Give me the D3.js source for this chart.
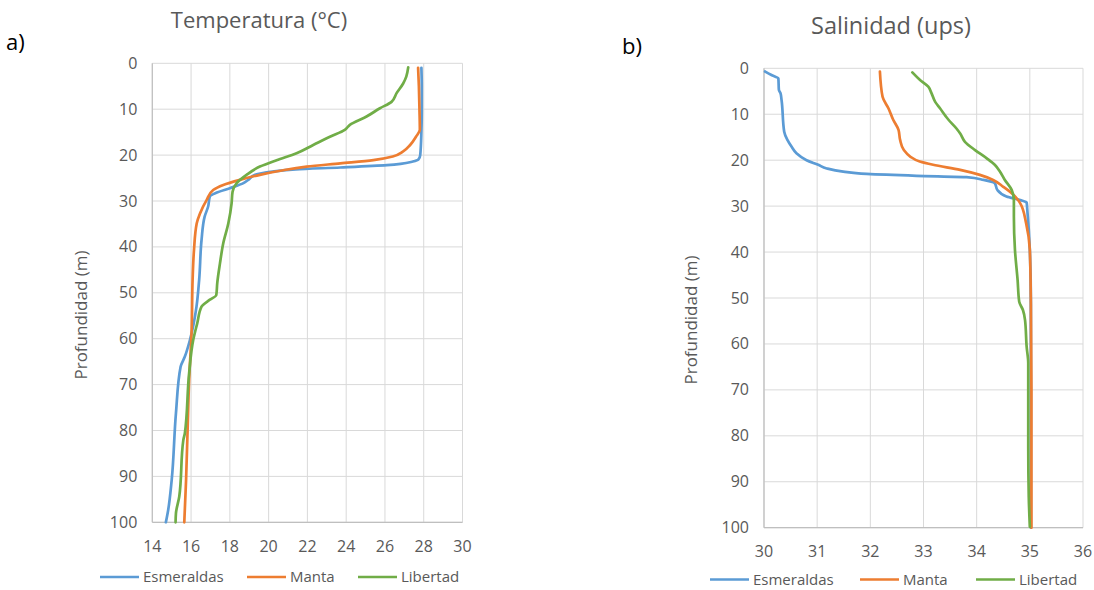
<!DOCTYPE html>
<html><head><meta charset="utf-8">
<script src="https://cdn.jsdelivr.net/npm/d3@7"></script>
<style>body{margin:0;background:#fff;} svg{display:block;}</style>
</head><body>
<svg id="c" width="1094" height="590"></svg>
<script>
// ---- Data ----
const seriesNames = ["Esmeraldas", "Manta", "Libertad"];
const seriesColors = ["#5B9BD5", "#ED7D31", "#70AD47"];

const tempTicks = [14,16,18,20,22,24,26,28,30];
const salTicks = [30,31,32,33,34,35,36];
const depthTicks = [0,10,20,30,40,50,60,70,80,90,100];

// Temperatura
const tEsmDepth = [1,5,10,15,20,21,21.4,22.2,22.7,23.1,23.6,24.3,25.4,26.1,27.2,28.2,29,31.2,33.4,38.5,47,53,60.3,63.9,66.1,76.2,90.8,97.3,100];
const tEsmTemp  = [27.88,27.9,27.9,27.88,27.82,27.72,27.44,26.1,23.7,21.4,20.2,19.3,18.95,18.7,18.0,17.3,16.97,16.88,16.7,16.54,16.42,16.28,15.94,15.68,15.46,15.22,15.0,14.82,14.7];

const tManDepth = [1,5,10,14.5,16,17.8,19.2,20.3,21.1,21.8,22.5,23.4,24.3,25.4,26.5,27.6,29.8,32.7,34.9,40.7,47,58,69,80,91,100];
const tManTemp  = [27.71,27.75,27.78,27.8,27.6,27.3,26.94,26.4,25.4,23.7,21.96,20.6,19.55,18.52,17.66,17.14,16.8,16.46,16.29,16.15,16.08,16.03,15.9,15.82,15.74,15.65];

const tLibDepth = [0.9,2.9,4.4,6.5,8.4,9.8,11.6,13.4,14.5,16,17.8,19.6,21.1,22.5,24.3,26.1,28,30.5,34.9,39.2,43.6,47.9,50.5,51.5,53,56.6,60.3,67.5,80.6,82.1,94.4,98,100];
const tLibTemp  = [27.2,27.1,26.94,26.6,26.34,25.74,25.05,24.19,23.93,23.16,22.3,21.44,20.41,19.55,18.86,18.35,18.14,18.09,17.92,17.66,17.49,17.35,17.3,16.97,16.54,16.32,16.11,15.9,15.68,15.6,15.39,15.22,15.2];

// Salinidad
const sEsmDepth = [0.7,1.45,2.2,4.7,5.4,6.9,13.8,15.6,17.1,18.5,20,21,21.8,22.5,23,23.4,23.7,24.3,25,26.5,27.9,28.7,29.2,30.5,39.5,51.2,70,100];
const sEsmSal   = [30.02,30.14,30.27,30.28,30.31,30.33,30.38,30.44,30.52,30.61,30.8,31.02,31.18,31.49,31.93,32.87,33.81,34.13,34.34,34.39,34.56,34.82,34.94,34.95,35.0,35.02,35.02,35.02];

const sManDepth = [0.7,6.2,8.7,11.2,13.4,15.6,17.8,19.2,20.3,21,22.1,23.2,24.3,25.8,27.2,29.4,33.7,39.5,51.2,70,100];
const sManSal   = [32.18,32.23,32.34,32.43,32.53,32.56,32.63,32.75,32.93,33.18,33.69,34.06,34.31,34.5,34.66,34.82,34.93,35.0,35.02,35.03,35.03];

const sLibDepth = [0.9,2.5,4.0,5.4,7.3,8.7,11.2,13.1,14.2,16,17.8,19.6,21,22.5,24.3,26.5,28.7,32.3,39.5,46.1,50.8,52.6,54.8,60.6,64.2,82.4,93.3,99.8];
const sLibSal   = [32.79,32.93,33.09,33.15,33.22,33.31,33.47,33.62,33.69,33.78,33.97,34.19,34.34,34.44,34.53,34.66,34.7,34.7,34.72,34.77,34.8,34.87,34.91,34.94,34.97,34.97,34.98,35.0];

// ---- Drawing ----
const svg = d3.select("#c");
const FONT = "'Open Sans', sans-serif";
const GRAY = "#595959";

function panel(cfg) {
  const x = d3.scaleLinear().domain(cfg.xDomain).range(cfg.xRange);
  const y = d3.scaleLinear().domain([0,100]).range(cfg.yRange);
  const g = svg.append("g");
  // grid
  g.selectAll(".vg").data(cfg.xTicks).enter().append("line")
    .attr("x1", d=>x(d)).attr("x2", d=>x(d))
    .attr("y1", y(0)).attr("y2", y(100))
    .attr("stroke", "#D9D9D9").attr("stroke-width", 1);
  g.selectAll(".hg").data(depthTicks).enter().append("line")
    .attr("x1", x.range()[0]).attr("x2", x.range()[1])
    .attr("y1", d=>y(d)).attr("y2", d=>y(d))
    .attr("stroke", "#D9D9D9").attr("stroke-width", 1);
  // axes lines
  g.append("line").attr("x1", x.range()[0]).attr("x2", x.range()[0])
    .attr("y1", y(0)).attr("y2", y(100)).attr("stroke", "#BFBFBF").attr("stroke-width", 1.2);
  g.append("line").attr("x1", x.range()[0]).attr("x2", x.range()[1])
    .attr("y1", y(100)).attr("y2", y(100)).attr("stroke", "#BFBFBF").attr("stroke-width", 1.2);
  // tick labels
  g.selectAll(".yl").data(depthTicks).enter().append("text")
    .attr("x", x.range()[0] - 15).attr("y", d=>y(d) + 5.5)
    .attr("text-anchor", "end").attr("font-family", FONT).attr("font-size", 16)
    .attr("fill", GRAY).text(d=>d);
  g.selectAll(".xl").data(cfg.xTicks).enter().append("text")
    .attr("x", d=>x(d)).attr("y", cfg.xLabelY)
    .attr("text-anchor", "middle").attr("font-family", FONT).attr("font-size", 16)
    .attr("fill", GRAY).text(d=>d);
  // series
  const line = d3.line().x(d=>x(d[0])).y(d=>y(d[1])).curve(d3.curveMonotoneY);
  cfg.series.forEach((s,i) => {
    const pts = s.v.map((v,k)=>[v, s.d[k]]);
    g.append("path").attr("d", line(pts)).attr("fill","none")
      .attr("stroke", seriesColors[i]).attr("stroke-width", 2.7)
      .attr("stroke-linejoin","round").attr("stroke-linecap","round");
  });
  // title
  g.append("text").attr("x", cfg.titleX).attr("y", cfg.titleY).attr("text-anchor","middle")
    .attr("font-family", FONT).attr("font-size", cfg.titleSize).attr("fill", GRAY).text(cfg.title);
  // y axis title
  g.append("text").attr("transform", `translate(${cfg.yTitleX},${cfg.yTitleY}) rotate(-90)`)
    .attr("text-anchor","middle").attr("font-family", FONT).attr("font-size", 17)
    .attr("fill", GRAY).text("Profundidad (m)");
  // panel letter
  g.append("text").attr("x", cfg.letterX).attr("y", cfg.letterY)
    .attr("font-family", FONT).attr("font-size", 22).attr("fill", "#000").text(cfg.letter);
  // legend
  cfg.legendX.forEach((lx,i) => {
    g.append("line").attr("x1", lx).attr("x2", lx+39).attr("y1", cfg.legendY).attr("y2", cfg.legendY)
      .attr("stroke", seriesColors[i]).attr("stroke-width", 2.7);
    g.append("text").attr("x", lx+43).attr("y", cfg.legendY+5)
      .attr("font-family", FONT).attr("font-size", 15).attr("fill", GRAY).text(seriesNames[i]);
  });
}

panel({
  xDomain:[14,30], xRange:[152.3,462.5], yRange:[63.3,522.3], xTicks: tempTicks,
  xLabelY: 552, title: "Temperatura (°C)", titleSize: 22, titleX: 259, titleY: 28,
  yTitleX: 87, yTitleY: 315, letter: "a)", letterX: 6, letterY: 50,
  legendX: [100, 247, 358], legendY: 577,
  series: [{d:tEsmDepth, v:tEsmTemp},{d:tManDepth, v:tManTemp},{d:tLibDepth, v:tLibTemp}]
});
panel({
  xDomain:[30,36], xRange:[764,1083], yRange:[68.3,527.7], xTicks: salTicks,
  xLabelY: 557, title: "Salinidad (ups)", titleSize: 23.5, titleX: 891, titleY: 34,
  yTitleX: 697, yTitleY: 320, letter: "b)", letterX: 622, letterY: 54,
  legendX: [710, 860, 976], legendY: 579.5,
  series: [{d:sEsmDepth, v:sEsmSal},{d:sManDepth, v:sManSal},{d:sLibDepth, v:sLibSal}]
});
</script>
</body></html>
